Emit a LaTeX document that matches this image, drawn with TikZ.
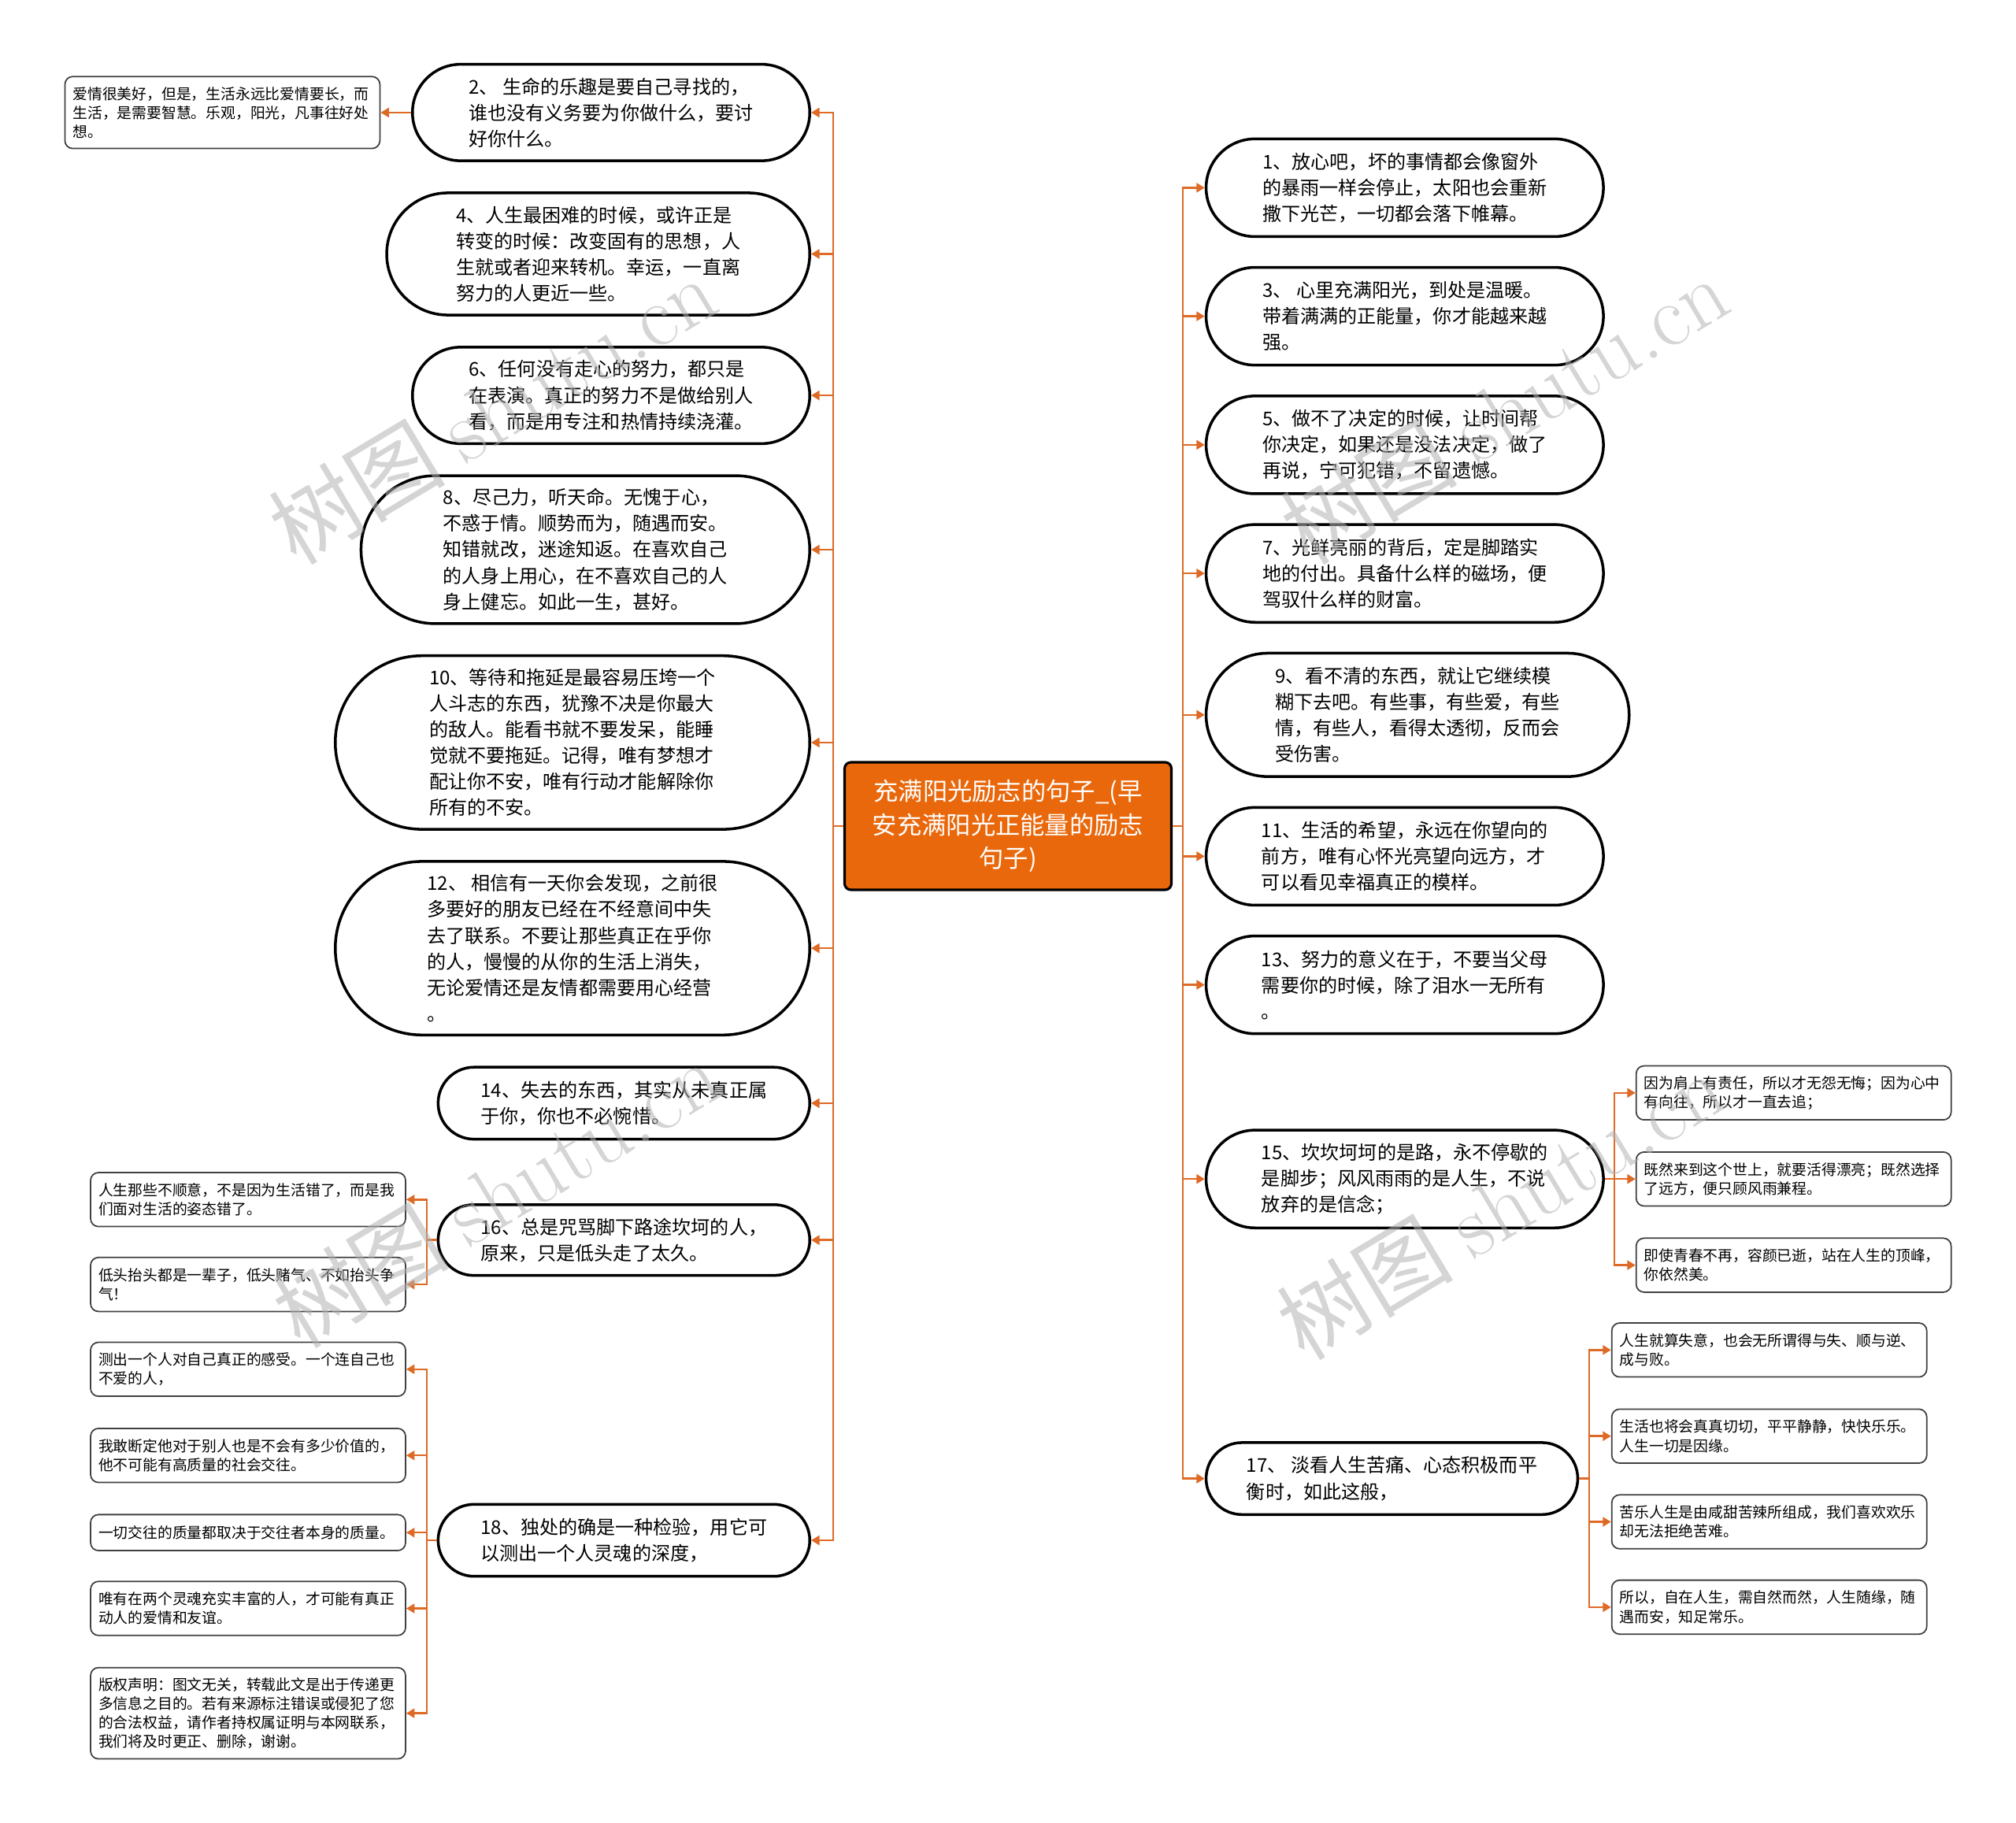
\documentclass[tikz,border=0pt]{standalone}
\usepackage{fontspec}
\newfontfamily\cjk{Noto Sans CJK SC}
\usetikzlibrary{shapes.misc,arrows.meta}
\pgfdeclarelayer{background}
\pgfdeclarelayer{foreground}
\pgfsetlayers{background,main,foreground}
\definecolor{rootorange}{RGB}{234,104,12}
\definecolor{linkorange}{RGB}{222,106,37}

\begin{document}
\begin{tikzpicture}[
  rootbox/.style={draw=black, line width=0.9pt, fill=rootorange, rounded corners=0.08cm,
    minimum width=4.15cm, minimum height=1.62cm, align=center, text=white, inner sep=0pt,
    font=\cjk\fontsize{8.9pt}{12pt}\selectfont},
  idea/.style={rounded rectangle, draw=black, line width=1pt, fill=white, align=left,
    inner sep=0pt, font=\cjk\fontsize{6.85pt}{9.4pt}\selectfont},
  note/.style={draw=black!75, line width=0.5pt, fill=white, rounded corners=0.1cm,
    align=left, text width=3.8cm, inner xsep=0.1cm, inner ysep=0pt,
    font=\cjk\fontsize{5.35pt}{6.9pt}\selectfont},
  link/.style={draw=linkorange, line width=0.7pt, -{Triangle[length=3pt,width=3.4pt]}},
  wmark/.style={text=black!30, text opacity=0.55, font=\cjk\fontsize{32pt}{32pt}\selectfont}
]
\useasboundingbox (0,0) rectangle (25.6,-23.15);

% root
\node[rootbox] (root) at (12.80,-10.49) {充满阳光励志的句子\_(早\\安充满阳光正能量的励志\\句子)};
\coordinate (lbus) at (10.58,-10.49);
\coordinate (rbus) at (15.02,-10.49);

% left branches
\node[idea, anchor=east, minimum width=5.045cm, minimum height=1.225cm] (n2) at (10.30,-1.429)
  {2、 生命的乐趣是要自己寻找的，\\谁也没有义务要为你做什么，要讨\\好你什么。};
\node[idea, anchor=east, minimum width=5.372cm, minimum height=1.551cm] (n4) at (10.30,-3.225)
  {4、人生最困难的时候，或许正是\\转变的时候：改变固有的思想，人\\生就或者迎来转机。幸运，一直离\\努力的人更近一些。};
\node[idea, anchor=east, minimum width=5.045cm, minimum height=1.225cm] (n6) at (10.30,-5.021)
  {6、任何没有走心的努力，都只是\\在表演。真正的努力不是做给别人\\看，而是用专注和热情持续浇灌。};
\node[idea, anchor=east, minimum width=5.698cm, minimum height=1.878cm] (n8) at (10.30,-6.980)
  {8、尽己力，听天命。无愧于心，\\不惑于情。顺势而为，随遇而安。\\知错就改，迷途知返。在喜欢自己\\的人身上用心，在不喜欢自己的人\\身上健忘。如此一生，甚好。};
\node[idea, anchor=east, minimum width=6.025cm, minimum height=2.204cm] (n10) at (10.30,-9.429)
  {10、等待和拖延是最容易压垮一个\\人斗志的东西，犹豫不决是你最大\\的敌人。能看书就不要发呆，能睡\\觉就不要拖延。记得，唯有梦想才\\配让你不安，唯有行动才能解除你\\所有的不安。};
\node[idea, anchor=east, minimum width=6.025cm, minimum height=2.204cm] (n12) at (10.30,-12.041)
  {12、 相信有一天你会发现，之前很\\多要好的朋友已经在不经意间中失\\去了联系。不要让那些真正在乎你\\的人，慢慢的从你的生活上消失，\\无论爱情还是友情都需要用心经营\\。};
\node[idea, anchor=east, minimum width=4.719cm, minimum height=0.914cm] (n14) at (10.30,-14.009)
  {14、失去的东西，其实从未真正属\\于你，你也不必惋惜。};
\node[idea, anchor=east, minimum width=4.719cm, minimum height=0.898cm] (n16) at (10.30,-15.747)
  {16、总是咒骂脚下路途坎坷的人，\\原来，只是低头走了太久。};
\node[idea, anchor=east, minimum width=4.719cm, minimum height=0.914cm] (n18) at (10.30,-19.560)
  {18、独处的确是一种检验，用它可\\以测出一个人灵魂的深度，};

% right branches
\node[idea, anchor=west, minimum width=5.045cm, minimum height=1.241cm] (n1) at (15.298,-2.384)
  {1、放心吧，坏的事情都会像窗外\\的暴雨一样会停止，太阳也会重新\\撒下光芒，一切都会落下帷幕。};
\node[idea, anchor=west, minimum width=5.045cm, minimum height=1.241cm] (n3) at (15.298,-4.016)
  {3、 心里充满阳光，到处是温暖。\\带着满满的正能量，你才能越来越\\强。};
\node[idea, anchor=west, minimum width=5.045cm, minimum height=1.241cm] (n5) at (15.298,-5.649)
  {5、做不了决定的时候，让时间帮\\你决定，如果还是没法决定，做了\\再说，宁可犯错，不留遗憾。};
\node[idea, anchor=west, minimum width=5.045cm, minimum height=1.241cm] (n7) at (15.298,-7.282)
  {7、光鲜亮丽的背后，定是脚踏实\\地的付出。具备什么样的磁场，便\\驾驭什么样的财富。};
\node[idea, anchor=west, minimum width=5.372cm, minimum height=1.567cm] (n9) at (15.298,-9.078)
  {9、看不清的东西，就让它继续模\\糊下去吧。有些事，有些爱，有些\\情，有些人，看得太透彻，反而会\\受伤害。};
\node[idea, anchor=west, minimum width=5.045cm, minimum height=1.241cm] (n11) at (15.298,-10.874)
  {11、生活的希望，永远在你望向的\\前方，唯有心怀光亮望向远方，才\\可以看见幸福真正的模样。};
\node[idea, anchor=west, minimum width=5.045cm, minimum height=1.241cm] (n13) at (15.298,-12.506)
  {13、努力的意义在于，不要当父母\\需要你的时候，除了泪水一无所有\\。};
\node[idea, anchor=west, minimum width=5.045cm, minimum height=1.241cm] (n15) at (15.298,-14.972)
  {15、坎坎坷坷的是路，永不停歇的\\是脚步；风风雨雨的是人生，不说\\放弃的是信念；};
\node[idea, anchor=west, minimum width=4.719cm, minimum height=0.914cm] (n17) at (15.298,-18.776)
  {17、 淡看人生苦痛、心态积极而平\\衡时，如此这般，};

% notes on the left
\node[note, anchor=east, minimum height=0.914cm] (a2) at (4.833,-1.429)
  {爱情很美好，但是，生活永远比爱情要长，而\\生活，是需要智慧。乐观，阳光，凡事往好处\\想。};
\node[note, anchor=east, minimum height=0.686cm] (b1) at (5.159,-15.233)
  {人生那些不顺意，不是因为生活错了，而是我\\们面对生活的姿态错了。};
\node[note, anchor=east, minimum height=0.686cm] (b2) at (5.159,-16.311)
  {低头抬头都是一辈子，低头赌气、不如抬头争\\气！};
\node[note, anchor=east, minimum height=0.686cm] (c1) at (5.159,-17.388)
  {测出一个人对自己真正的感受。一个连自己也\\不爱的人，};
\node[note, anchor=east, minimum height=0.686cm] (c2) at (5.159,-18.482)
  {我敢断定他对于别人也是不会有多少价值的，\\他不可能有高质量的社会交往。};
\node[note, anchor=east, minimum height=0.457cm] (c3) at (5.159,-19.462)
  {一切交往的质量都取决于交往者本身的质量。};
\node[note, anchor=east, minimum height=0.686cm] (c4) at (5.159,-20.425)
  {唯有在两个灵魂充实丰富的人，才可能有真正\\动人的爱情和友谊。};
\node[note, anchor=east, minimum height=1.159cm] (c5) at (5.159,-21.756)
  {版权声明：图文无关，转载此文是出于传递更\\多信息之目的。若有来源标注错误或侵犯了您\\的合法权益，请作者持权属证明与本网联系，\\我们将及时更正、删除，谢谢。};

% notes on the right
\node[note, anchor=west, minimum height=0.686cm] (d1) at (20.768,-13.878)
  {因为肩上有责任，所以才无怨无悔；因为心中\\有向往，所以才一直去追；};
\node[note, anchor=west, minimum height=0.686cm] (d2) at (20.768,-14.972)
  {既然来到这个世上，就要活得漂亮；既然选择\\了远方，便只顾风雨兼程。};
\node[note, anchor=west, minimum height=0.686cm] (d3) at (20.768,-16.066)
  {即使青春不再，容颜已逝，站在人生的顶峰，\\你依然美。};
\node[note, anchor=west, minimum height=0.686cm] (e1) at (20.458,-17.143)
  {人生就算失意，也会无所谓得与失、顺与逆、\\成与败。};
\node[note, anchor=west, minimum height=0.686cm] (e2) at (20.458,-18.237)
  {生活也将会真真切切，平平静静，快快乐乐。\\人生一切是因缘。};
\node[note, anchor=west, minimum height=0.686cm] (e3) at (20.458,-19.325)
  {苦乐人生是由咸甜苦辣所组成，我们喜欢欢乐\\却无法拒绝苦难。};
\node[note, anchor=west, minimum height=0.686cm] (e4) at (20.458,-20.409)
  {所以，自在人生，需自然而然，人生随缘，随\\遇而安，知足常乐。};

\coordinate (j16) at (5.42,-15.747);
\coordinate (j18) at (5.42,-19.560);
\coordinate (j15) at (20.50,-14.972);
\coordinate (j17) at (20.18,-18.776);

% connectors
\foreach \n in {n2,n4,n6,n8,n10,n12,n14,n16,n18}
  \draw[link] (root.west) -- (lbus) |- (\n.east);
\foreach \n in {n1,n3,n5,n7,n9,n11,n13,n15,n17}
  \draw[link] (root.east) -- (rbus) |- (\n.west);
\draw[link] (n2.west) -- (a2.east);
\foreach \n in {b1,b2}
  \draw[link] (n16.west) -- (j16) |- (\n.east);
\foreach \n in {c1,c2,c3,c4,c5}
  \draw[link] (n18.west) -- (j18) |- (\n.east);
\foreach \n in {d1,d2,d3}
  \draw[link] (n15.east) -- (j15) |- (\n.west);
\foreach \n in {e1,e2,e3,e4}
  \draw[link] (n17.east) -- (j17) |- (\n.west);

\begin{pgfonlayer}{foreground}
\node[wmark, rotate=31] (wm1) at (6.25,-5.20) {树图 {\rmfamily shutu.cn}};
\node[wmark, rotate=31] (wm2) at (19.10,-5.20) {树图 {\rmfamily shutu.cn}};
\node[wmark, rotate=31] (wm3) at (6.30,-15.15) {树图 {\rmfamily shutu.cn}};
\node[wmark, rotate=31] (wm4) at (19.05,-15.30) {树图 {\rmfamily shutu.cn}};
\end{pgfonlayer}
\end{tikzpicture}
\end{document}
